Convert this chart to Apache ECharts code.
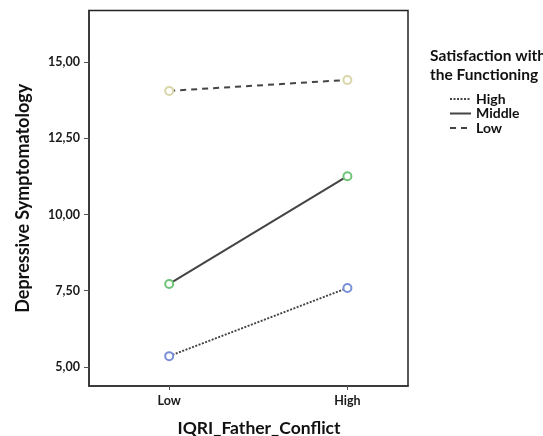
<!DOCTYPE html>
<html><head><meta charset="utf-8">
<script src="https://cdn.jsdelivr.net/npm/echarts@6/dist/echarts.min.js"></script>
<style>html,body{margin:0;padding:0;background:#fff}#c{width:543px;height:436px}</style>
</head><body><div id="c"></div>
<script>
const categories = ['Low', 'High'];
const seriesNames = ['High', 'Middle', 'Low'];
const highValues = [5.35, 7.59];
const middleValues = [7.72, 11.26];
const lowValues = [14.06, 14.42];
const yTickValues = [5, 7.5, 10, 12.5, 15];

const FONT = 'Lato, "Open Sans", sans-serif';
const toPts = vals => vals.map((v, i) => [i + 1, v]);
const markerColors = ['#7b8fd8', '#6fc477', '#d9d6a8'];
const lineTypes = [[2, 1.5], 'solid', [6, 5]];
const allValues = [highValues, middleValues, lowValues];

const chart = echarts.init(document.getElementById('c'), null, {renderer: 'canvas'});
chart.setOption({
  animation: false,
  backgroundColor: '#fff',
  grid: {left: 89, right: 135, top: 10.5, bottom: 50, show: true, borderColor: '#222', borderWidth: 1.5, backgroundColor: 'transparent'},
  xAxis: {
    type: 'value', min: 0.55, max: 2.34,
    axisLine: {show: true, lineStyle: {color: '#333', width: 1.5}},
    axisTick: {show: true, customValues: [1, 2], length: 4, lineStyle: {color: '#555'}},
    axisLabel: {customValues: [1, 2], formatter: v => categories[Math.round(v) - 1] || '', color: '#1a1a1a', fontFamily: FONT, fontWeight: 'bold', fontSize: 12.5, margin: 8},
    splitLine: {show: false}
  },
  yAxis: {
    type: 'value', min: 4.37, max: 16.7,
    name: 'Depressive Symptomatology', nameLocation: 'middle', nameGap: 57,
    nameTextStyle: {color: '#111', fontFamily: FONT, fontWeight: 'bold', fontSize: 18},
    axisLine: {show: true, lineStyle: {color: '#333', width: 1.5}},
    axisTick: {show: true, customValues: yTickValues, length: 5, lineStyle: {color: '#555'}},
    axisLabel: {customValues: yTickValues, formatter: v => v.toFixed(2).replace('.', ','), color: '#1a1a1a', fontFamily: FONT, fontWeight: 'bold', fontSize: 12.5, margin: 9},
    splitLine: {show: false}
  },
  legend: {
    orient: 'vertical', left: 444, top: 87,
    data: seriesNames,
    itemWidth: 21, itemHeight: 10, itemGap: 0.5,
    itemStyle: {opacity: 0},
    textStyle: {color: '#111', fontFamily: FONT, fontWeight: 'bold', fontSize: 14, lineHeight: 13}
  },
  graphic: [
    {type: 'text', left: 430, top: 46, style: {text: 'Satisfaction with\nthe Functioning', fill: '#111', font: 'bold 15.5px ' + FONT, lineHeight: 19}},
    {type: 'text', x: 259, y: 428, style: {text: 'IQRI_Father_Conflict', fill: '#111', font: 'bold 17.5px ' + FONT, align: 'center', verticalAlign: 'middle'}}
  ],
  series: seriesNames.map((n, i) => ({
    name: n, type: 'line', data: toPts(allValues[i]),
    symbol: 'emptyCircle', symbolSize: 8,
    itemStyle: {color: markerColors[i], borderColor: markerColors[i], borderWidth: 1.5},
    lineStyle: {color: '#444', width: 2, type: lineTypes[i]},
    z: 2
  }))
});
</script></body></html>
